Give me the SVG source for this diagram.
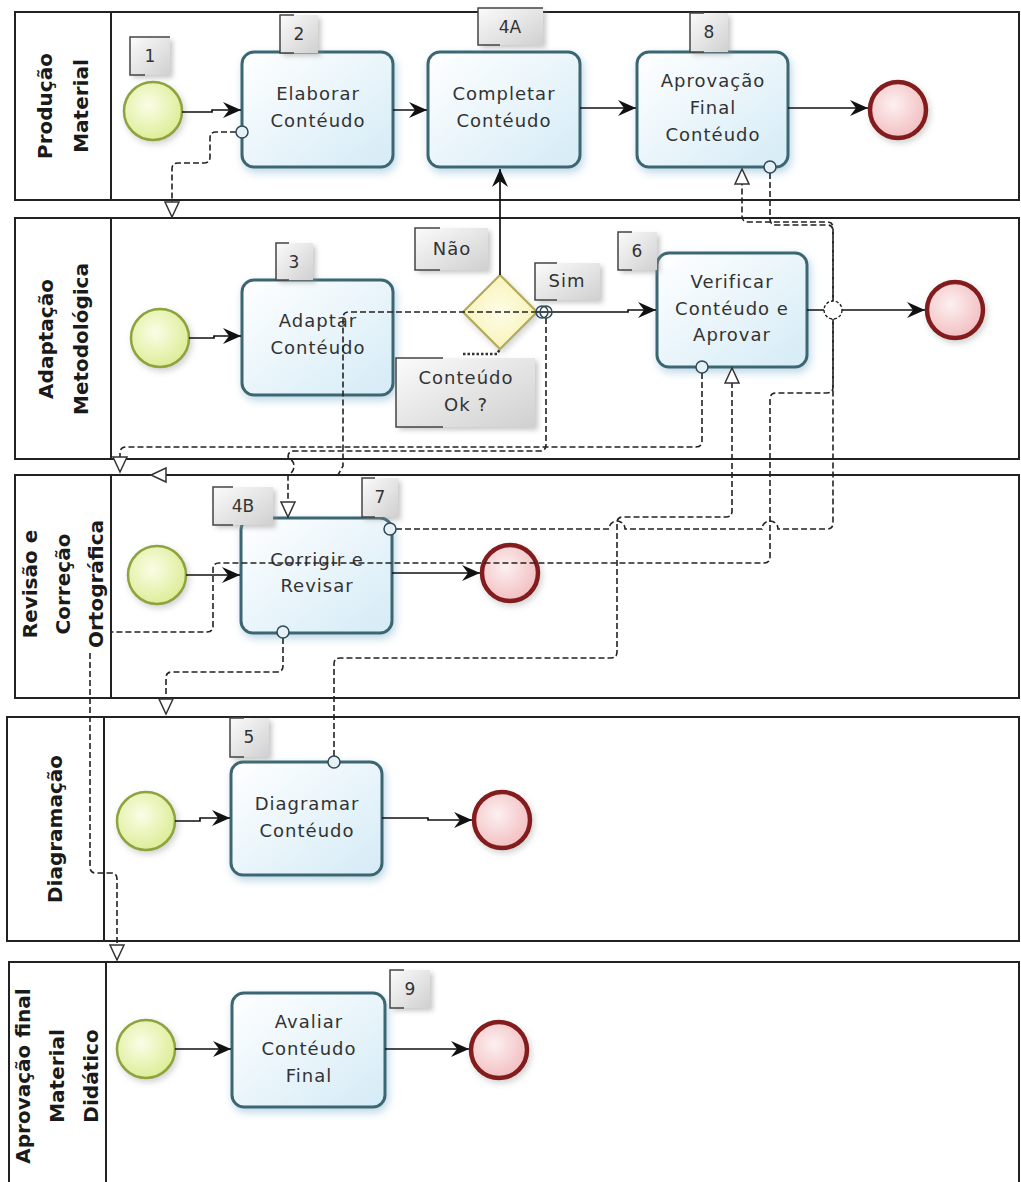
<svg xmlns="http://www.w3.org/2000/svg" width="1021" height="1182" viewBox="0 0 1021 1182">
<defs>
<linearGradient id="gTask" x1="0" y1="0" x2="1" y2="1"><stop offset="0" stop-color="#ffffff"/><stop offset="1" stop-color="#d4ebf6"/></linearGradient>
<radialGradient id="gStart" cx="0.42" cy="0.4" r="0.7"><stop offset="0" stop-color="#fbfde6"/><stop offset="1" stop-color="#d8eb8c"/></radialGradient>
<radialGradient id="gEnd" cx="0.42" cy="0.4" r="0.7"><stop offset="0" stop-color="#fdf0f0"/><stop offset="1" stop-color="#f1b7ba"/></radialGradient>
<radialGradient id="gGate" cx="0.5" cy="0.5" r="0.7"><stop offset="0" stop-color="#fffde8"/><stop offset="1" stop-color="#f5efa6"/></radialGradient>
<linearGradient id="gAnn" x1="0" y1="0" x2="1" y2="1"><stop offset="0" stop-color="#fbfbfb"/><stop offset="1" stop-color="#d0d0d0"/></linearGradient>
<filter id="shT" x="-20%" y="-20%" width="145%" height="150%"><feDropShadow dx="2" dy="4" stdDeviation="4" flood-color="#6fa8c8" flood-opacity="0.45"/></filter>
<filter id="shE" x="-30%" y="-30%" width="170%" height="170%"><feDropShadow dx="2" dy="3" stdDeviation="3" flood-color="#9a9a9a" flood-opacity="0.45"/></filter>
<filter id="shA" x="-20%" y="-20%" width="150%" height="150%"><feDropShadow dx="3" dy="3" stdDeviation="2.5" flood-color="#888" flood-opacity="0.45"/></filter>
<marker id="arr" markerUnits="userSpaceOnUse" markerWidth="18" markerHeight="16" refX="18" refY="8" orient="auto" overflow="visible"><path d="M0,0 L18,8 L0,16 L6,8 z" fill="#111"/></marker>
<marker id="tri" markerUnits="userSpaceOnUse" markerWidth="18" markerHeight="16" refX="16" refY="8" orient="auto" overflow="visible"><path d="M1,1 L16,8 L1,15 z" fill="#fff" stroke="#333" stroke-width="1.5"/></marker>
</defs>
<style>
.lane{fill:#fff;stroke:#222;stroke-width:2}
.div{stroke:#222;stroke-width:2}
.hdr{font-family:"DejaVu Sans",Verdana,sans-serif;font-weight:bold;font-size:20px;fill:#1a1a1a;text-anchor:middle}
.task{fill:url(#gTask);stroke:#3b6672;stroke-width:3;filter:url(#shT)}
.tt{font-family:"DejaVu Sans",Verdana,sans-serif;font-size:18px;letter-spacing:1px;fill:#333;text-anchor:middle}
.start{fill:url(#gStart);stroke:#8da43e;stroke-width:2.5;filter:url(#shE)}
.end{fill:url(#gEnd);stroke:#831c1f;stroke-width:4.5;filter:url(#shE)}
.gate{fill:url(#gGate);stroke:#b3ab58;stroke-width:2.2;filter:url(#shE)}
.ann{fill:url(#gAnn);filter:url(#shA)}
.br{fill:none;stroke:#444;stroke-width:1.5}
.nt{font-family:"DejaVu Sans",Verdana,sans-serif;font-size:17px;fill:#333;text-anchor:middle}
.lt{font-family:"DejaVu Sans",Verdana,sans-serif;font-size:18px;letter-spacing:1px;fill:#333;text-anchor:middle}
.seq{fill:none;stroke:#111;stroke-width:1.7;marker-end:url(#arr)}
.msg{fill:none;stroke:#222;stroke-width:1.6;stroke-dasharray:6 3}
.ma{marker-end:url(#tri)}
.mc{fill:#e6f1f6;stroke:#2f4a58;stroke-width:1.5}
</style>

<g id="lane1">
<rect class="lane" x="15" y="12" width="1004" height="188"/>
<line class="div" x1="111" y1="12" x2="111" y2="200"/>
<text class="hdr" transform="translate(0,106) rotate(-90)"><tspan x="0" y="52">Produção</tspan><tspan x="0" y="88">Material</tspan></text>
</g>
<g id="lane2">
<rect class="lane" x="15" y="218" width="1004" height="241"/>
<line class="div" x1="111" y1="218" x2="111" y2="459"/>
<text class="hdr" transform="translate(0,339) rotate(-90)"><tspan x="0" y="53">Adaptação</tspan><tspan x="0" y="88">Metodológica</tspan></text>
</g>
<g id="lane3">
<rect class="lane" x="15" y="475" width="1004" height="223"/>
<line class="div" x1="111" y1="475" x2="111" y2="698"/>
<text class="hdr" transform="translate(0,584) rotate(-90)"><tspan x="0" y="37">Revisão e</tspan><tspan x="0" y="70">Correção</tspan><tspan x="0" y="103">Ortográfica</tspan></text>
</g>
<g id="lane4">
<rect class="lane" x="7" y="717" width="1012" height="224"/>
<line class="div" x1="104" y1="717" x2="104" y2="941"/>
<text class="hdr" transform="translate(0,829) rotate(-90)"><tspan x="0" y="62">Diagramação</tspan></text>
</g>
<g id="lane5">
<rect class="lane" x="9" y="962" width="1010" height="240"/>
<line class="div" x1="106" y1="962" x2="106" y2="1190"/>
<text class="hdr" transform="translate(0,1076) rotate(-90)"><tspan x="0" y="30">Aprovação final</tspan><tspan x="0" y="64">Material</tspan><tspan x="0" y="98">Didático</tspan></text>
</g>

<g id="start1"><circle class="start" cx="153" cy="111" r="29"/></g>
<g id="task2"><rect class="task" x="242" y="52" width="151" height="115" rx="12"/><text class="tt"><tspan x="318" y="100">Elaborar</tspan><tspan x="318" y="127">Contéudo</tspan></text></g>
<g id="task4A"><rect class="task" x="428" y="52" width="152" height="115" rx="12"/><text class="tt"><tspan x="504" y="100">Completar</tspan><tspan x="504" y="127">Contéudo</tspan></text></g>
<g id="task8"><rect class="task" x="637" y="52" width="151" height="115" rx="12"/><text class="tt"><tspan x="713" y="87">Aprovação</tspan><tspan x="713" y="114">Final</tspan><tspan x="713" y="141">Contéudo</tspan></text></g>
<g id="end1"><circle class="end" cx="898" cy="110" r="28"/></g>

<g id="start2"><circle class="start" cx="160" cy="338" r="29"/></g>
<g id="task3"><rect class="task" x="242" y="280" width="151" height="115" rx="12"/><text class="tt"><tspan x="318" y="327">Adaptar</tspan><tspan x="318" y="354">Contéudo</tspan></text></g>
<g id="gateway"><polygon class="gate" points="500,275 537,312 500,349 463,312"/></g>
<g id="task6"><rect class="task" x="657" y="253" width="150" height="114" rx="12"/><text class="tt"><tspan x="732" y="288">Verificar</tspan><tspan x="732" y="315">Contéudo e</tspan><tspan x="732" y="341">Aprovar</tspan></text></g>
<g id="end2"><circle class="end" cx="955" cy="310" r="28"/></g>

<g id="start3"><circle class="start" cx="157" cy="575" r="29"/></g>
<g id="task4B"><rect class="task" x="241" y="518" width="151" height="115" rx="12"/><text class="tt"><tspan x="317" y="566">Corrigir e</tspan><tspan x="317" y="592">Revisar</tspan></text></g>
<g id="end3"><circle class="end" cx="510" cy="573" r="28"/></g>

<g id="start4"><circle class="start" cx="146" cy="821" r="29"/></g>
<g id="task5"><rect class="task" x="231" y="762" width="151" height="113" rx="12"/><text class="tt"><tspan x="307" y="810">Diagramar</tspan><tspan x="307" y="837">Contéudo</tspan></text></g>
<g id="end4"><circle class="end" cx="502" cy="820" r="28"/></g>

<g id="start5"><circle class="start" cx="146" cy="1049" r="29"/></g>
<g id="task9"><rect class="task" x="232" y="993" width="153" height="114" rx="12"/><text class="tt"><tspan x="309" y="1028">Avaliar</tspan><tspan x="309" y="1055">Contéudo</tspan><tspan x="309" y="1082">Final</tspan></text></g>
<g id="end5"><circle class="end" cx="499" cy="1050" r="28"/></g>

<g id="annotations">
<g id="n1"><rect class="ann" x="130" y="37" width="40" height="38"/><path class="br" d="M170,37 H130 V75 H145"/><text class="nt" x="150" y="62">1</text></g>
<g id="n2"><rect class="ann" x="280" y="15" width="38" height="38"/><path class="br" d="M294,15 H280 V53 H294"/><text class="nt" x="299" y="40">2</text></g>
<g id="n4A"><rect class="ann" x="478" y="8" width="65" height="37"/><path class="br" d="M543,8 H478 V45 H500"/><text class="nt" x="510" y="33">4A</text></g>
<g id="n8"><rect class="ann" x="690" y="13" width="38" height="39"/><path class="br" d="M704,13 H690 V52 H704"/><text class="nt" x="709" y="38">8</text></g>
<g id="n3"><rect class="ann" x="276" y="243" width="37" height="37"/><path class="br" d="M289,243 H276 V280 H289"/><text class="nt" x="294" y="268">3</text></g>
<g id="n6"><rect class="ann" x="618" y="232" width="39" height="38"/><path class="br" d="M632,232 H618 V270 H632"/><text class="nt" x="637" y="257">6</text></g>
<g id="n4B"><rect class="ann" x="213" y="487" width="60" height="38"/><path class="br" d="M233,487 H213 V525 H233"/><text class="nt" x="243" y="512">4B</text></g>
<g id="n7"><rect class="ann" x="362" y="478" width="36" height="39"/><path class="br" d="M375,478 H362 V517 H375"/><text class="nt" x="380" y="503">7</text></g>
<g id="n5"><rect class="ann" x="230" y="718" width="39" height="39"/><path class="br" d="M244,718 H230 V757 H244"/><text class="nt" x="249" y="743">5</text></g>
<g id="n9"><rect class="ann" x="390" y="970" width="40" height="38"/><path class="br" d="M404,970 H390 V1008 H404"/><text class="nt" x="410" y="995">9</text></g>
<g id="lblNao"><rect class="ann" x="415" y="228" width="73" height="42"/><path class="br" d="M440,228 H415 V270 H440"/><text class="lt" x="452" y="255">Não</text></g>
<g id="lblSim"><rect class="ann" x="535" y="263" width="65" height="37"/><path class="br" d="M557,263 H535 V300 H557"/><text class="lt" x="567" y="287">Sim</text></g>
<g id="lblOk"><rect class="ann" x="396" y="358" width="139" height="69"/><path class="br" d="M443,358 H396 V427 H443"/><text class="lt"><tspan x="466" y="384">Conteúdo</tspan><tspan x="466" y="411">Ok ?</tspan></text><path d="M463,354 H497 L500,349" fill="none" stroke="#333" stroke-width="2.5" stroke-dasharray="2.5 2"/></g>
</g>

<g id="connectors">
<path class="seq" d="M182,112 H212 V110 H241"/>
<path class="seq" d="M393,110 H427"/>
<path class="seq" d="M580,108 H636"/>
<path class="seq" d="M788,108 H868"/>
<path class="seq" d="M189,338 H214 V336 H241"/>
<path class="seq" d="M500,275 V169"/>
<path class="seq" d="M537,312 H628 V310 H656"/>
<path class="seq" d="M807,310 H925"/>
<path class="seq" d="M186,575 H240"/>
<path class="seq" d="M392,573 H480"/>
<path class="seq" d="M175,821 H200 V818 H230"/>
<path class="seq" d="M382,818 H428 V820 H472"/>
<path class="seq" d="M175,1049 H231"/>
<path class="seq" d="M385,1049 H469"/>

<path class="msg ma" d="M236,132 H216 Q210,132 210,138 V157 Q210,163 204,163 H178 Q172,163 172,169 V217"/>
<path class="msg ma" d="M770,173 V219 Q770,225 776,225 H827 Q833,225 833,231 V387 Q833,393 827,393 H776 Q770,393 770,399 V557 Q770,563 764,563 H219 Q213,563 213,569 V626 Q213,632 207,632 H111 M90,653 V867 Q90,873 96,873 H111 Q117,873 117,879 V960"/>
<path class="msg ma" d="M396,529 H609 A8,8 0 0 1 625,529 H762 A8,8 0 0 1 778,529 H827 Q833,529 833,523 V228 Q833,222 827,222 H748 Q742,222 742,216 V169"/>
<path class="msg ma" d="M702,373 V441 Q702,447 696,447 H126 Q120,447 120,453 V472"/>
<path class="msg ma" d="M546,318 V445 Q546,451 540,451 H294 Q288,451 288,457 C296,462 296,470 288,476 V517"/>
<path class="msg ma" d="M537,312 H349 Q343,312 343,318 V466 L338,475 H151"/>
<path class="msg ma" d="M283,638 V666 Q283,672 277,672 H172 Q166,672 166,678 V714"/>
<path class="msg ma" d="M334,756 V664 Q334,658 340,658 H611 Q617,658 617,652 V523 Q617,517 623,517 H726 Q732,517 732,511 V368"/>
<circle cx="833" cy="310" r="9" fill="#fff" stroke="#222" stroke-width="1.4" stroke-dasharray="3 2"/>
<circle class="mc" cx="242" cy="132" r="6"/>
<circle class="mc" cx="770" cy="167" r="6"/>
<circle class="mc" cx="390" cy="529" r="6"/>
<circle class="mc" cx="702" cy="367" r="6"/>
<circle class="mc" cx="542" cy="312" r="6" style="fill:none"/>
<circle class="mc" cx="546" cy="312" r="6" style="fill:none"/>
<circle class="mc" cx="283" cy="632" r="6"/>
<circle class="mc" cx="334" cy="762" r="6"/>
</g>
</svg>
